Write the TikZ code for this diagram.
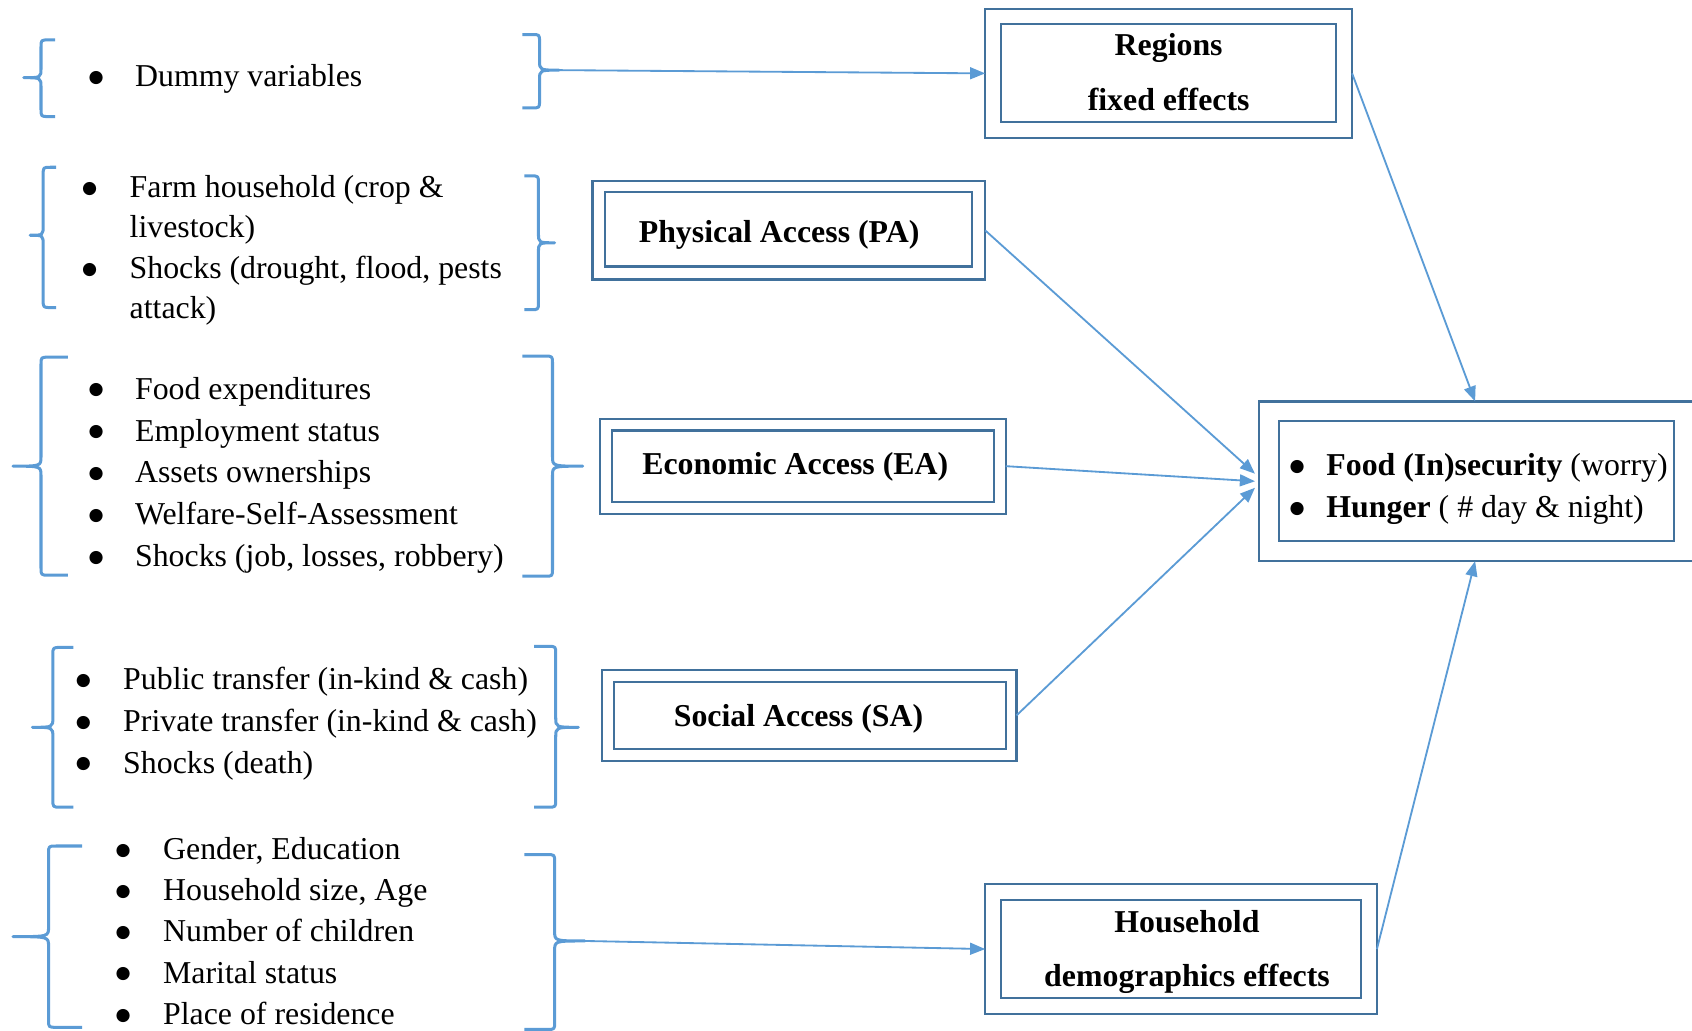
\documentclass[tikz,border=0pt]{standalone}
\usepackage{fontspec}
\setmainfont{Liberation Serif}
\newfontfamily\dvsans{DejaVu Sans}
\usetikzlibrary{arrows.meta,calc}
\definecolor{bracecol}{HTML}{5B9BD5}
\definecolor{boxcol}{HTML}{41719C}
% left brace: arm spine tip top mid bottom
\newcommand{\BraceL}[6]{%
  \draw[bracestyle] (#1,#4) -- ({#2+7},#4) .. controls (#2,#4) .. (#2,{#4+7})
    -- (#2,{#5-9}) .. controls (#2,#5) .. (#3,#5) .. controls (#2,#5) .. (#2,{#5+9})
    -- (#2,{#6-7}) .. controls (#2,#6) .. ({#2+7},#6) -- (#1,#6);}
% right brace: arm spine tip top mid bottom
\newcommand{\BraceR}[6]{%
  \draw[bracestyle] (#1,#4) -- ({#2-7},#4) .. controls (#2,#4) .. (#2,{#4+7})
    -- (#2,{#5-9}) .. controls (#2,#5) .. (#3,#5) .. controls (#2,#5) .. (#2,{#5+9})
    -- (#2,{#6-7}) .. controls (#2,#6) .. ({#2-7},#6) -- (#1,#6);}
\newcommand{\bul}[1]{\makebox[#1][l]{\hspace*{2pt}\raisebox{4pt}{\dvsans\fontsize{16}{16}\selectfont ●}}}
\begin{document}
\begin{tikzpicture}[x=1pt,y=-1pt,
  bracestyle/.style={draw=bracecol,line width=2.8pt,line join=round},
  conn/.style={draw=bracecol,line width=1.7pt,-{Triangle[length=14pt,width=11pt]}},
  boxline/.style={draw=boxcol,line width=2pt,inner sep=0pt,outer sep=0pt,rectangle},
  lst/.style={anchor=base west,inner sep=0pt,font=\fontsize{29.5}{38.8}\selectfont},
  btxt/.style={inner sep=0pt,font=\fontsize{29.5}{38.5}\selectfont\bfseries}]
\useasboundingbox (0,0) rectangle (1568,955);

% ---------- boxes ----------
\node[boxline,minimum width=340pt,minimum height=120pt] (reg) at (1083,68) {};
\node[boxline,minimum width=310pt,minimum height=91pt] (regin) at (1083,67.5) {};
\node[btxt,align=center] (regtxt) at (1083,67) {Regions\\[12pt]fixed effects};

\node[boxline,minimum width=364pt,minimum height=91pt] (pa) at (731,213.5) {};
\node[boxline,minimum width=340pt,minimum height=69pt] (pain) at (731,212.5) {};
\node[btxt,anchor=base] (patxt) at (722,225) {Physical Access (PA)};

\node[boxline,minimum width=376pt,minimum height=88pt] (ea) at (744,432) {};
\node[boxline,minimum width=354pt,minimum height=66pt] (eain) at (744,432) {};
\node[btxt,anchor=base] (eatxt) at (737,440) {Economic Access (EA)};

\node[boxline,minimum width=384pt,minimum height=84pt] (sa) at (750,663) {};
\node[boxline,minimum width=363pt,minimum height=62pt] (sain) at (750.5,663) {};
\node[btxt,anchor=base] (satxt) at (740,673) {Social Access (SA)};

\node[boxline,minimum width=363pt,minimum height=121pt] (hh) at (1094.5,879.5) {};
\node[boxline,minimum width=333pt,minimum height=91pt] (hhin) at (1094.5,879.5) {};
\node[btxt,align=center] (hhtxt) at (1100,882) {Household\\[12pt]demographics effects};

\node[boxline,minimum width=408pt,minimum height=148pt] (food) at (1371,446) {};
\node[boxline,minimum width=366pt,minimum height=111pt] (foodin) at (1368,445.5) {};
\node[lst] (foodtxt) at (1193,441) {\begin{tabular}[t]{@{}l@{}l@{}}
\bul{36pt} & \textbf{Food (In)security} (worry)\\
\bul{36pt} & \textbf{Hunger} ( \# day \& night)
\end{tabular}};

% ---------- lists ----------
\node[lst] (dummy) at (80,80) {\begin{tabular}[t]{@{}l@{}l@{}}
\bul{45pt} & Dummy variables
\end{tabular}};
\node[lst,font=\fontsize{29.5}{37.5}\selectfont] (farm) at (74,183) {\begin{tabular}[t]{@{}l@{}l@{}}
\bul{46pt} & Farm household (crop \&\\
 & livestock)\\
\bul{46pt} & Shocks (drought, flood, pests\\
 & attack)
\end{tabular}};
\node[lst] (econ) at (80,370) {\begin{tabular}[t]{@{}l@{}l@{}}
\bul{45pt} & Food expenditures\\
\bul{45pt} & Employment status\\
\bul{45pt} & Assets ownerships\\
\bul{45pt} & Welfare-Self-Assessment\\
\bul{45pt} & Shocks (job, losses, robbery)
\end{tabular}};
\node[lst] (soc) at (68,639) {\begin{tabular}[t]{@{}l@{}l@{}}
\bul{46pt} & Public transfer (in-kind \& cash)\\
\bul{46pt} & Private transfer (in-kind \& cash)\\
\bul{46pt} & Shocks (death)
\end{tabular}};
\node[lst,font=\fontsize{29.5}{38.2}\selectfont] (demo) at (105,796.5) {\begin{tabular}[t]{@{}l@{}l@{}}
\bul{46pt} & Gender, Education\\
\bul{46pt} & Household size, Age\\
\bul{46pt} & Number of children\\
\bul{46pt} & Marital status\\
\bul{46pt} & Place of residence
\end{tabular}};

% ---------- braces ----------
\BraceL{51}{38}{22}{37}{72}{108}
\BraceR{484}{500}{518}{32}{65}{100}
\coordinate (dtip) at (518,65);

\BraceL{52}{40}{28}{155}{218}{285}
\BraceR{486}{499}{514}{163}{225}{287}

\BraceL{63}{38}{12}{331}{432}{533}
\BraceR{484}{512}{540}{330}{432}{534}

\BraceL{68}{49}{30}{600}{674}{748}
\BraceR{495}{515}{536}{599}{674}{748}

\BraceL{76}{45}{12}{784}{868}{952}
\BraceR{486}{514}{542}{792}{872}{954}
\coordinate (htip) at (542,872);

% ---------- connectors ----------
\draw[conn] (dtip) -- (reg.west);
\draw[conn] (htip) -- (hh.west);
\draw[conn] (reg.east) -- ($(food.north)+(-4,0)$);
\draw[conn] (pa.east) -- ($(food.west)+(-4,-7)$);
\draw[conn] (ea.east) -- ($(food.west)+(-4,0)$);
\draw[conn] (sa.east) -- ($(food.west)+(-4,6)$);
\draw[conn] (hh.east) -- ($(food.south)+(-4,0)$);
\end{tikzpicture}
\end{document}
